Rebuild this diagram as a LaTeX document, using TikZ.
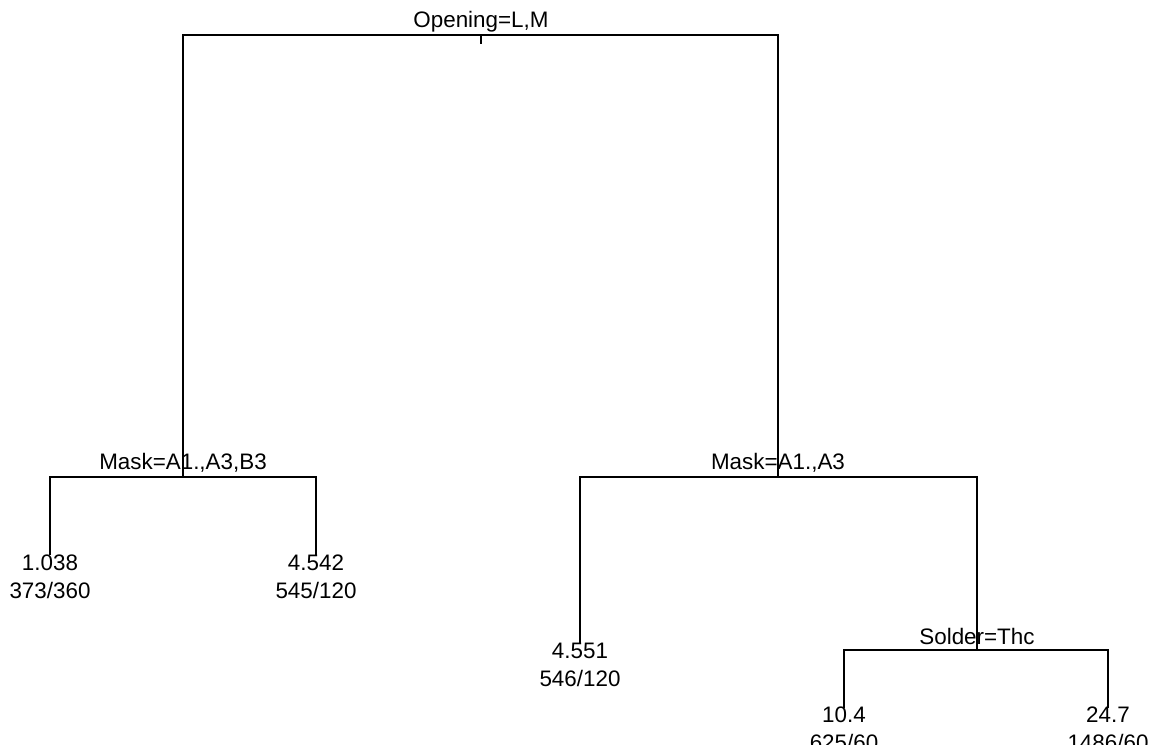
\documentclass[tikz,border=0pt]{standalone}
\usepackage{fontspec}
\setmainfont{Liberation Sans}
\tikzset{
	split/.style={anchor=base,inner sep=0pt,font=\fontsize{16.8}{20}\selectfont},
	leaf/.style={anchor=base,inner sep=0pt,font=\fontsize{16.8}{20}\selectfont},
	branch/.style={black,line width=0.8pt}
}
\begin{document}
\begin{tikzpicture}[x=0.75pt,y=-0.75pt]
\useasboundingbox (0,0) rectangle (1153,745);
%Knoten
\coordinate (root) at (481,35);
\coordinate (mask1) at (183,477);
\coordinate (mask2) at (778,477);
\coordinate (solder) at (977,650);
\coordinate (l1) at (50,555);
\coordinate (l2) at (316,555);
\coordinate (l3) at (580,643);
\coordinate (l4) at (844,708);
\coordinate (l5) at (1108,708);

%Aeste
\draw[branch] (mask1) |- (root) -| (mask2);
\draw[branch] (root) -- ++(0,9);
\draw[branch] (l1) |- (mask1) -| (l2);
\draw[branch] (l3) |- (mask2) -| (solder);
\draw[branch] (l4) |- (solder) -| (l5);

%Splits
\node[split] (t-root) at ([yshift=5.6pt]root) {Opening=L,M};
\node[split] (t-mask1) at ([yshift=5.6pt]mask1) {Mask=A1.,A3,B3};
\node[split] (t-mask2) at ([yshift=5.6pt]mask2) {Mask=A1.,A3};
\node[split] (t-solder) at ([yshift=4.5pt]solder) {Solder=Thc};

%Blaetter
\node[leaf] (v1) at ([yshift=-11.25pt]l1) {1.038};
\node[leaf] (n1) at ([yshift=-21pt]v1.base) {373/360};
\node[leaf] (v2) at ([yshift=-11.25pt]l2) {4.542};
\node[leaf] (n2) at ([yshift=-21pt]v2.base) {545/120};
\node[leaf] (v3) at ([yshift=-11.25pt]l3) {4.551};
\node[leaf] (n3) at ([yshift=-21pt]v3.base) {546/120};
\node[leaf] (v4) at ([yshift=-10.5pt]l4) {10.4};
\node[leaf] (n4) at ([yshift=-21pt]v4.base) {625/60};
\node[leaf] (v5) at ([yshift=-10.5pt]l5) {24.7};
\node[leaf] (n5) at ([yshift=-21pt]v5.base) {1486/60};
\end{tikzpicture}
\end{document}
